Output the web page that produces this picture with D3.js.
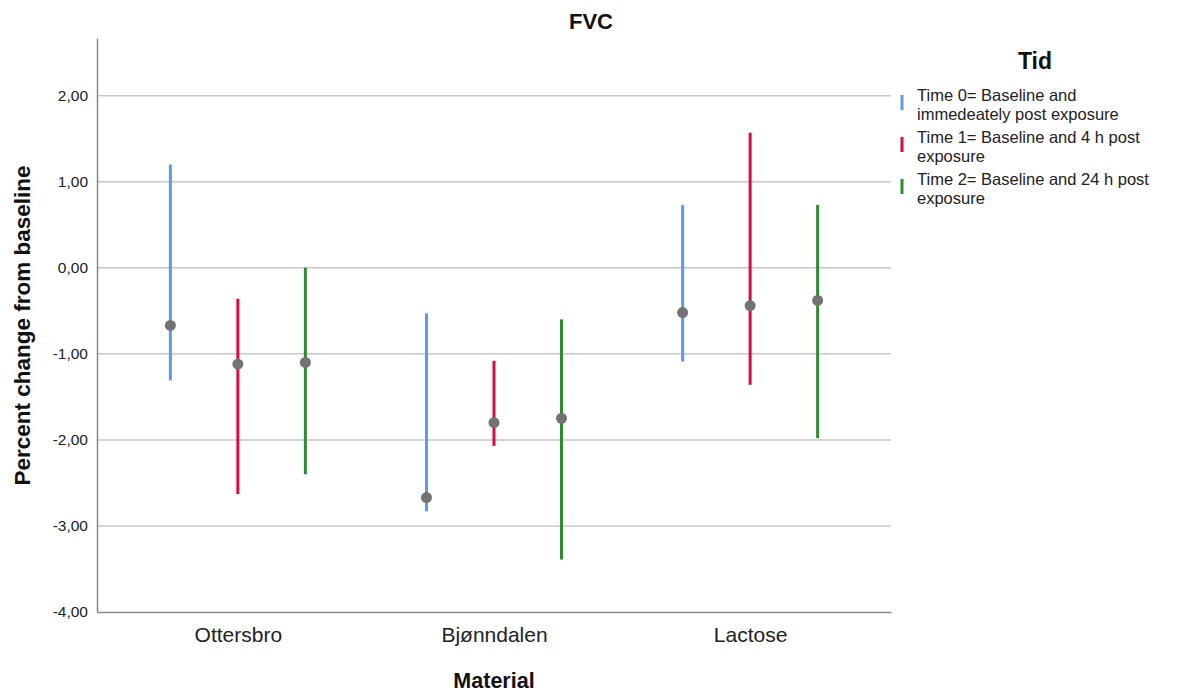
<!DOCTYPE html>
<html>
<head>
<meta charset="utf-8">
<script src="https://cdn.jsdelivr.net/npm/d3@7"></script>
<style>
  body { margin: 0; background: #fff; }
  text { font-family: "Liberation Sans", Arial, sans-serif; }
</style>
</head>
<body>
<div id="chart"></div>
<script>
(() => {

  // data
  let materials = ["Ottersbro", "Bjønndalen", "Lactose"]
  let times = ["Time 0", "Time 1", "Time 2"]
  let means = [
    [-0.67, -1.12, -1.10],
    [-2.67, -1.80, -1.75],
    [-0.52, -0.44, -0.38]
  ]
  let lows = [
    [-1.31, -2.63, -2.40],
    [-2.83, -2.07, -3.39],
    [-1.09, -1.36, -1.98]
  ]
  let highs = [
    [1.20, -0.36, 0.00],
    [-0.53, -1.08, -0.60],
    [0.73, 1.57, 0.73]
  ]
  let yTicks = [-4, -3, -2, -1, 0, 1, 2]
  let legendLabels = [
    ["Time 0= Baseline and", "immedeately post exposure"],
    ["Time 1= Baseline and 4 h post", "exposure"],
    ["Time 2= Baseline and 24 h post", "exposure"]
  ]
  let colors = ["#5b9be8", "#dc0a44", "#2e8b2e"]

  let svg = d3.select("#chart")
  .append("svg")
  .attr("width", 1188)
  .attr("height", 693)

  let margin = {top: 38, right: 297, bottom: 81, left: 97}
  let width = 1188 - margin.left - margin.right
  let height = 693 - margin.top - margin.bottom

  let g = svg.append("g")
  .attr("transform", "translate(" + margin.left + "," + margin.top + ")")

  let y = d3.scaleLinear()
  .domain([-4, 2.67])
  .range([height, 0])

  let x = d3.scalePoint()
  .domain(materials)
  .range([0, width])
  .padding(0.55)

  let sub = d3.scalePoint()
  .domain(times)
  .range([-67.5, 67.5])

  // gridlines
  g.selectAll(".grid")
  .data(yTicks.filter(d => d > -4))
  .enter()
  .append("line")
  .attr("x1", 0)
  .attr("x2", width)
  .attr("y1", d => y(d))
  .attr("y2", d => y(d))
  .attr("stroke", "#c8c8c8")
  .attr("stroke-width", 1.5)

  // y axis
  let yAxis = g.append("g")
  .call(d3.axisLeft(y)
  .tickValues(yTicks)
  .tickSize(0)
  .tickPadding(9)
  .tickFormat(d => d3.format(".2f")(d).replace(".", ",").replace("−", "-")))
  yAxis.select(".domain").attr("stroke", "#888").attr("stroke-width", 1.5)
  yAxis.selectAll("text")
  .style("font-size", "15.5px")
  .style("fill", "#222")

  // x axis
  let xAxis = g.append("g")
  .attr("transform", "translate(0," + height + ")")
  .call(d3.axisBottom(x).tickSize(0).tickPadding(15))
  xAxis.select(".domain").attr("stroke", "#888").attr("stroke-width", 1.5)
  xAxis.selectAll("text")
  .style("font-size", "21px")
  .style("fill", "#222")

  // error bars and means
  materials.forEach((m, i) => {
    times.forEach((t, j) => {
      let cx = x(m) + sub(t)
      g.append("line")
      .attr("x1", cx)
      .attr("x2", cx)
      .attr("y1", y(lows[i][j]))
      .attr("y2", y(highs[i][j]))
      .attr("stroke", colors[j])
      .attr("stroke-width", 3)
      g.append("circle")
      .attr("cx", cx)
      .attr("cy", y(means[i][j]))
      .attr("r", 5.5)
      .attr("fill", "#737373")
    })
  })

  //Title
  svg.append("text")
  .attr("x", 591)
  .attr("y", 29)
  .text("FVC")
  .attr("font-weight", "bold")
  .style("text-anchor", "middle")
  .style("font-size", "22px")
  .style("fill", "#111")

  //Axis titles
  svg.append("text")
  .attr("x", margin.left + x("Bjønndalen"))
  .attr("y", 688)
  .text("Material")
  .attr("font-weight", "bold")
  .style("text-anchor", "middle")
  .style("font-size", "21.5px")
  .style("fill", "#111")

  svg.append("text")
  .attr("transform", "translate(30," + (margin.top + y(-0.67)) + ") rotate(-90)")
  .text("Percent change from baseline")
  .attr("font-weight", "bold")
  .style("text-anchor", "middle")
  .style("font-size", "22.5px")
  .style("fill", "#111")

  // legend
  svg.append("text")
  .attr("x", 1035)
  .attr("y", 69)
  .text("Tid")
  .attr("font-weight", "bold")
  .style("text-anchor", "middle")
  .style("font-size", "23px")
  .style("fill", "#111")

  let leg = svg.selectAll(".leg")
  .data(legendLabels)
  .enter()
  .append("g")
  .attr("transform", (d, i) => "translate(902," + (95 + i * 42) + ")")

  leg.append("line")
  .attr("x1", 0)
  .attr("x2", 0)
  .attr("y1", 0)
  .attr("y2", 15)
  .attr("stroke", (d, i) => colors[i])
  .attr("stroke-width", 3)

  leg.append("text")
  .attr("x", 15)
  .attr("y", 6)
  .style("font-size", "16.5px")
  .style("fill", "#222")
  .selectAll("tspan")
  .data(d => d)
  .enter()
  .append("tspan")
  .attr("x", 15)
  .attr("dy", (d, k) => k === 0 ? 0 : 19)
  .text(d => d)

})()
</script>
</body>
</html>
